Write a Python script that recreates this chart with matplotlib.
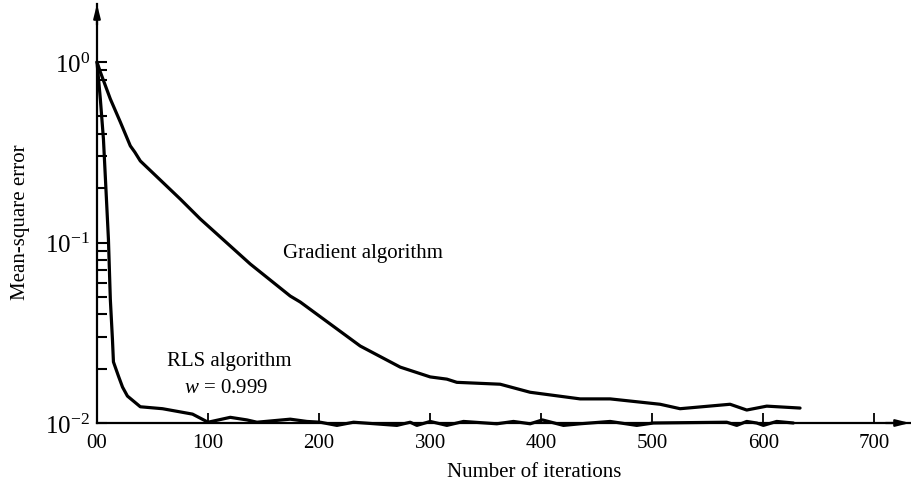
import matplotlib
matplotlib.use("Agg")
import matplotlib.pyplot as plt
from matplotlib.ticker import FixedLocator, NullFormatter

plt.rcParams["font.family"] = ["Liberation Serif", "DejaVu Serif"]
plt.rcParams["mathtext.fontset"] = "custom"
plt.rcParams["mathtext.rm"] = "Liberation Serif"
plt.rcParams["mathtext.it"] = "Liberation Serif:italic"

# Learning curves: mean-square error versus iteration count
grad_iter = [0, 3, 12, 21, 30, 34, 39, 75, 93, 138, 174, 183, 237, 273, 300, 315,
             324, 363, 390, 435, 462, 507, 525, 570, 585, 603, 633]
grad_mse = [1.0, 0.88, 0.624, 0.465, 0.343, 0.317, 0.283, 0.174, 0.135, 0.076,
            0.0505, 0.0468, 0.0267, 0.0204, 0.018, 0.0175, 0.0168, 0.0164, 0.0148,
            0.0136, 0.0136, 0.0127, 0.0120, 0.0127, 0.0118, 0.0124, 0.0121]

rls_iter = [0, 3, 5.8, 8.5, 10.3, 12, 13.9, 14.8, 19.3, 23, 27.4, 39, 59, 86, 100,
            120, 135, 144, 174, 189, 201, 216, 231, 270, 282, 288, 300, 315, 330,
            360, 375, 390, 401, 420, 435, 462, 486, 501, 567, 576, 585, 594, 600,
            612, 627]
rls_mse = [1.0, 0.624, 0.374, 0.174, 0.104, 0.0485, 0.0291, 0.0218, 0.0182, 0.0158,
           0.0141, 0.0123, 0.0120, 0.0112, 0.0101,
           0.01075, 0.0104, 0.0101, 0.0105, 0.0102, 0.0101, 0.0097, 0.0101, 0.0097,
           0.0101, 0.0097, 0.0102, 0.0097, 0.0102, 0.0099, 0.0102, 0.0099, 0.0104,
           0.0097, 0.0099, 0.0102, 0.0097, 0.0100, 0.0101, 0.0097, 0.0102, 0.0100,
           0.0097, 0.0102, 0.0100]

x_ticks = [0, 100, 200, 300, 400, 500, 600, 700]
x_tick_labels = ["00", "100", "200", "300", "400", "500", "600", "700"]
y_major = [0.01, 0.1, 1.0]
y_major_labels = [r"$10^{-2}$", r"$10^{-1}$", r"$10^{0}$"]
y_minor = [0.02, 0.03, 0.04, 0.05, 0.06, 0.07, 0.08, 0.09,
           0.2, 0.3, 0.4, 0.5, 0.8, 0.9]

fig = plt.figure(figsize=(9.12, 4.85), dpi=100)
W, H = 912, 485
left_px, bottom_px, right_px, top_px = 97, 424, 910, 5
ax = fig.add_axes([left_px / W, 1 - bottom_px / H,
                   (right_px - left_px) / W, (bottom_px - top_px) / H])

ax.set_yscale("log")
ax.set_xlim(0, 732)
ax.set_ylim(0.01, 2.096)

lw = 2.3
ax.plot(grad_iter, grad_mse, color="black", lw=lw, solid_joinstyle="round",
        solid_capstyle="round", clip_on=False, zorder=3)
ax.plot(rls_iter, rls_mse, color="black", lw=lw, solid_joinstyle="round",
        solid_capstyle="round", clip_on=False, zorder=3)

for side in ("top", "right"):
    ax.spines[side].set_visible(False)
for side in ("left", "bottom"):
    ax.spines[side].set_linewidth(1.6)

ax.xaxis.set_major_locator(FixedLocator(x_ticks))
ax.set_xticklabels(x_tick_labels)
ax.yaxis.set_major_locator(FixedLocator(y_major))
ax.set_yticklabels(y_major_labels)
ax.yaxis.set_minor_locator(FixedLocator(y_minor))
ax.yaxis.set_minor_formatter(NullFormatter())
ax.xaxis.set_minor_locator(FixedLocator([]))

ax.tick_params(axis="x", which="major", direction="in", length=7.5, width=1.3,
               labelsize=15, pad=7)
ax.tick_params(axis="y", which="both", direction="in", length=7.5, width=1.5,
               labelsize=18, pad=5)

# arrowheads at the ends of both axes
arrow = dict(arrowstyle="-|>,head_length=0.8,head_width=0.2", color="black",
             lw=1.6, shrinkA=0, shrinkB=0)
ax.annotate("", xy=(1.0, 0), xytext=(0.97, 0), xycoords="axes fraction",
            arrowprops=arrow, annotation_clip=False)
ax.annotate("", xy=(0, 1.0), xytext=(0, 0.95), xycoords="axes fraction",
            arrowprops=arrow, annotation_clip=False)

ax.text(239, 0.0885, "Gradient algorithm", fontsize=15, ha="center", va="center")
ax.text(119, 0.0221, "RLS algorithm", fontsize=15, ha="center", va="center")
ax.text(116, 0.0158, r"$w$ = 0.999", fontsize=15, ha="center", va="center")

fig.text(534 / W, 1 - 473 / H, "Number of iterations", fontsize=15,
         ha="center", va="center")
fig.text(21 / W, 1 - 222 / H, "Mean-square error", fontsize=15, rotation=90,
         ha="center", va="center")

fig.savefig("out.png", dpi=100)
